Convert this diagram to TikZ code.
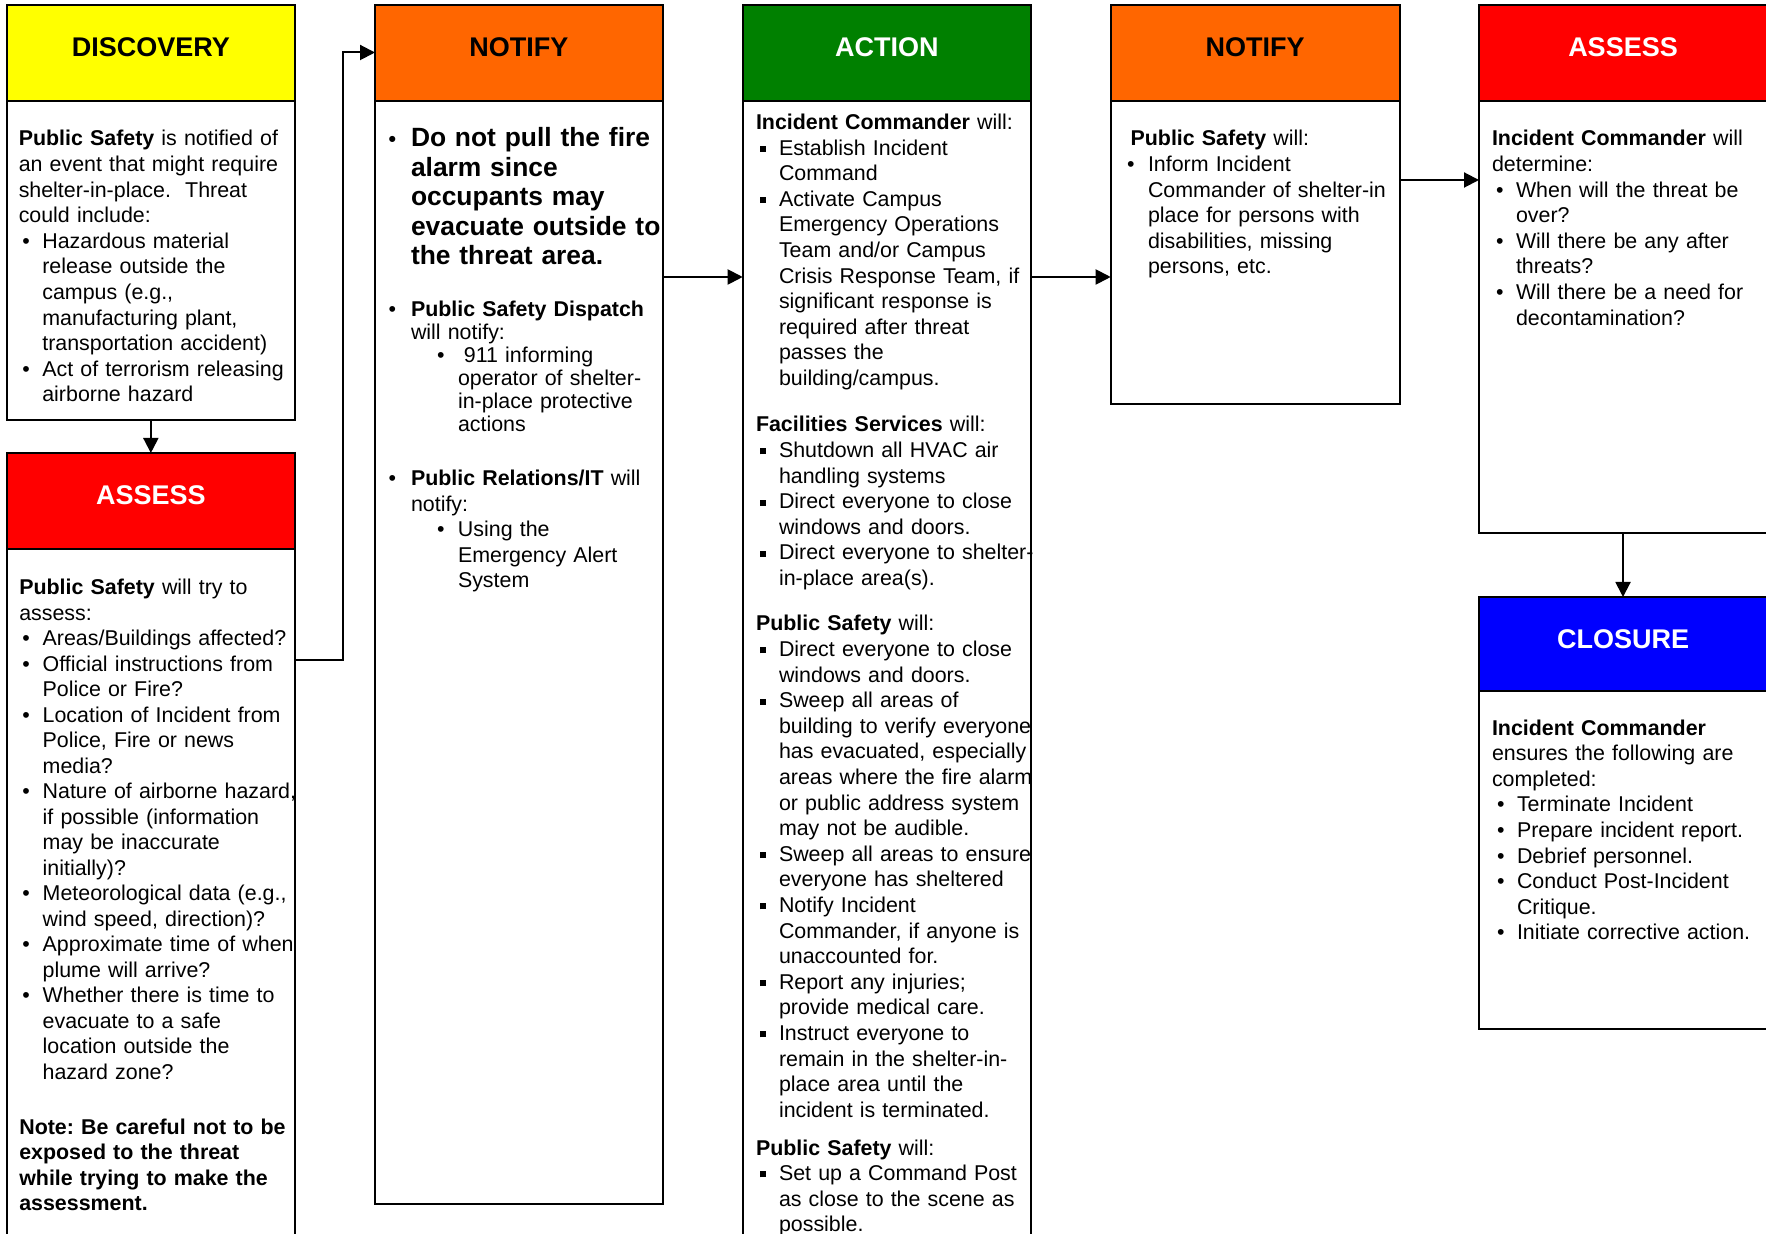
\documentclass[tikz,border=0pt]{standalone}
\usepackage{fontspec}
\setmainfont{Liberation Sans}
\usetikzlibrary{arrows.meta,fit}

\definecolor{hdYellow}{RGB}{255,255,0}
\definecolor{hdOrange}{RGB}{255,102,0}
\definecolor{hdGreen}{RGB}{0,128,0}
\definecolor{hdRed}{RGB}{255,0,0}
\definecolor{hdBlue}{RGB}{0,0,255}

% list layout: bullet offset and hanging text offset
\newlength\bulx
\newlength\itmx
\newcommand\setind[2]{\setlength\bulx{#1}\setlength\itmx{#2}}
\newcommand\nl{\newline}
\newcommand\itemline[2][\textbullet]{\hangindent=\itmx\hangafter=1\noindent\hbox to\itmx{\hspace{\bulx}#1\hfil}#2}
\newcommand\bitem[2][\textbullet]{\par\itemline[#1]{#2}}
\newcommand\sqb{\raisebox{1.6pt}{\rule{3pt}{3pt}}}
\frenchspacing

\tikzset{
  boxframe/.style={draw, line width=1pt, inner sep=0pt, outer sep=0pt},
  headbar/.style={boxframe, fill=#1},
  headtitle/.style={anchor=base, inner sep=0pt, font=\fontsize{13.5}{16}\selectfont\bfseries},
  txtblock/.style={anchor=base west, inner sep=0pt, outer sep=0pt, text width=170pt,
     font=\fontsize{10.7}{12.8}\selectfont},
  flowarrow/.style={line width=1pt, -{Triangle[length=7.5pt,width=7.5pt]}},
}

\begin{document}
\begin{tikzpicture}[x=0.5pt, y=-0.5pt]
\useasboundingbox (0,0) rectangle (1766,1234);

% ---- boxes ----
\node[headbar=hdYellow, fit={(6.7,5) (295,101)}] (discH) {};
\node[boxframe, fit={(6.7,5) (295,420.5)}] (disc) {};
\node[headtitle] (discTitle) at (150.85,57) {DISCOVERY};

\node[headbar=hdRed, fit={(6.7,453) (295,549)}] (assLH) {};
\node[boxframe, fit={(6.7,453) (295,1300)}] (assL) {};
\node[headtitle, text=white] (assLTitle) at (150.85,505) {ASSESS};

\node[headbar=hdOrange, fit={(375,5) (662.7,101)}] (not1H) {};
\node[boxframe, fit={(375,5) (662.7,1203.5)}] (not1) {};
\node[headtitle] (not1Title) at (518.85,57) {NOTIFY};

\node[headbar=hdGreen, fit={(742.7,5) (1031,101)}] (actH) {};
\node[boxframe, fit={(742.7,5) (1031,1300)}] (act) {};
\node[headtitle, text=white] (actTitle) at (886.85,57) {ACTION};

\node[headbar=hdOrange, fit={(1110.7,5) (1399.5,101)}] (not2H) {};
\node[boxframe, fit={(1110.7,5) (1399.5,404.5)}] (not2) {};
\node[headtitle] (not2Title) at (1255.1,57) {NOTIFY};

\node[headbar=hdRed, fit={(1479,5) (1775,101)}] (ass2H) {};
\node[boxframe, fit={(1479,5) (1775,533)}] (ass2) {};
\node[headtitle, text=white] (ass2Title) at (1623,57) {ASSESS};

\node[headbar=hdBlue, fit={(1479,597) (1775,691)}] (closH) {};
\node[boxframe, fit={(1479,597) (1775,1028.6)}] (clos) {};
\node[headtitle, text=white] (closTitle) at (1623,649) {CLOSURE};

% ---- discovery ----
\node[txtblock] (discText) at (18.75,146) {\setind{1.8pt}{11.8pt}%
\textbf{Public Safety} is notified of\nl
an event that might require\nl
shelter-in-place.\ \ Threat\nl
could include:
\bitem{Hazardous material\nl release outside the\nl campus (e.g.,\nl manufacturing plant,\nl transportation accident)}
\bitem{Act of terrorism releasing\nl airborne hazard}\par};

% ---- first assessment ----
\node[txtblock, font=\fontsize{10.7}{12.75}\selectfont] (assLText) at (19.3,595) {\setind{1.5pt}{11.7pt}%
\textbf{Public Safety} will try to\nl
assess:
\bitem{Areas/Buildings affected?}
\bitem{Official instructions from\nl Police or Fire?}
\bitem{Location of Incident from\nl Police, Fire or news\nl media?}
\bitem{Nature of airborne hazard,\nl if possible (information\nl may be inaccurate\nl initially)?}
\bitem{Meteorological data (e.g.,\nl wind speed, direction)?}
\bitem{Approximate time of when\nl plume will arrive?}
\bitem{Whether there is time to\nl evacuate to a safe\nl location outside the\nl hazard zone?}\par};
\node[txtblock, font=\fontsize{10.7}{12.75}\selectfont\bfseries] (assLNote) at (19.3,1134)
{Note: Be careful not to be\nl exposed to the threat\nl while trying to make the\nl assessment.};

% ---- first notification ----
\node[txtblock, font=\fontsize{13.2}{14.7}\selectfont\bfseries] (not1A) at (388.5,147) {\setind{0pt}{11.25pt}%
\itemline[{\fontsize{10.7}{12.8}\selectfont\textbullet}]{Do not pull the fire\nl alarm since\nl occupants may\nl evacuate outside to\nl the threat area.}\par};
\node[txtblock, font=\fontsize{10.7}{11.5}\selectfont] (not1B) at (388.5,317) {\setind{0pt}{11.25pt}%
\itemline{\textbf{Public Safety Dispatch}\nl will notify:}\par
\setind{24.25pt}{34.75pt}\itemline{\hspace{3pt}911 informing\nl operator of shelter-\nl in-place protective\nl actions}\par};
\node[txtblock, font=\fontsize{10.7}{12.75}\selectfont] (not1C) at (388.5,486) {\setind{0pt}{11.25pt}%
\itemline{\textbf{Public Relations/IT} will\nl notify:}\par
\setind{24.25pt}{34.75pt}\itemline{Using the\nl Emergency Alert\nl System}\par};

% ---- action ----
\node[txtblock] (actA) at (756,129.5) {\setind{2pt}{11.5pt}%
\textbf{Incident Commander} will:
\bitem[\sqb]{Establish Incident\nl Command}
\bitem[\sqb]{Activate Campus\nl Emergency Operations\nl Team and/or Campus\nl Crisis Response Team, if\nl significant response is\nl required after threat\nl passes the\nl building/campus.}\par};
\node[txtblock] (actB) at (756,432) {\setind{2pt}{11.5pt}%
\textbf{Facilities Services} will:
\bitem[\sqb]{Shutdown all HVAC air\nl handling systems}
\bitem[\sqb]{Direct everyone to close\nl windows and doors.}
\bitem[\sqb]{Direct everyone to shelter-\nl in-place area(s).}\par};
\node[txtblock] (actC) at (756,631) {\setind{2pt}{11.5pt}%
\textbf{Public Safety} will:
\bitem[\sqb]{Direct everyone to close\nl windows and doors.}
\bitem[\sqb]{Sweep all areas of\nl building to verify everyone\nl has evacuated, especially\nl areas where the fire alarm\nl or public address system\nl may not be audible.}
\bitem[\sqb]{Sweep all areas to ensure\nl everyone has sheltered}
\bitem[\sqb]{Notify Incident\nl Commander, if anyone is\nl unaccounted for.}
\bitem[\sqb]{Report any injuries;\nl provide medical care.}
\bitem[\sqb]{Instruct everyone to\nl remain in the shelter-in-\nl place area until the\nl incident is terminated.}\par};
\node[txtblock] (actD) at (756,1155) {\setind{2pt}{11.5pt}%
\textbf{Public Safety} will:
\bitem[\sqb]{Set up a Command Post\nl as close to the scene as\nl possible.}\par};

% ---- second notification ----
\node[txtblock] (not2Text) at (1127,146) {\setind{0pt}{10.5pt}%
\hspace{1.8pt}\textbf{Public Safety} will:
\bitem{Inform Incident\nl Commander of shelter-in\nl place for persons with\nl disabilities, missing\nl persons, etc.}\par};

% ---- second assessment ----
\node[txtblock] (ass2Text) at (1492,146) {\setind{2pt}{12pt}%
\textbf{Incident Commander} will\nl
determine:
\bitem{When will the threat be\nl over?}
\bitem{Will there be any after\nl threats?}
\bitem{Will there be a need for\nl decontamination?}\par};

% ---- closure ----
\node[txtblock] (closText) at (1492,735) {\setind{2.5pt}{12.5pt}%
\textbf{Incident Commander}\nl
ensures the following are\nl
completed:
\bitem{Terminate Incident}
\bitem{Prepare incident report.}
\bitem{Debrief personnel.}
\bitem{Conduct Post-Incident\nl Critique.}
\bitem{Initiate corrective action.}\par};

% ---- connectors ----
\coordinate (rowA) at (0,277);
\coordinate (rowB) at (0,180);
\coordinate (rowC) at (0,660);
\coordinate (rowD) at (0,52.5);
\coordinate (colC) at (343,0);
\coordinate (colE) at (1623,0);

\draw[flowarrow] (disc.south) -- (assL.north);
\draw[flowarrow] (assL.east |- rowC) -- (colC |- rowC) -- (colC |- rowD) -- (not1.west |- rowD);
\draw[flowarrow] (not1.east |- rowA) -- (act.west |- rowA);
\draw[flowarrow] (act.east |- rowA) -- (not2.west |- rowA);
\draw[flowarrow] (not2.east |- rowB) -- (ass2.west |- rowB);
\draw[flowarrow] (ass2.south -| colE) -- (clos.north -| colE);
\end{tikzpicture}
\end{document}
